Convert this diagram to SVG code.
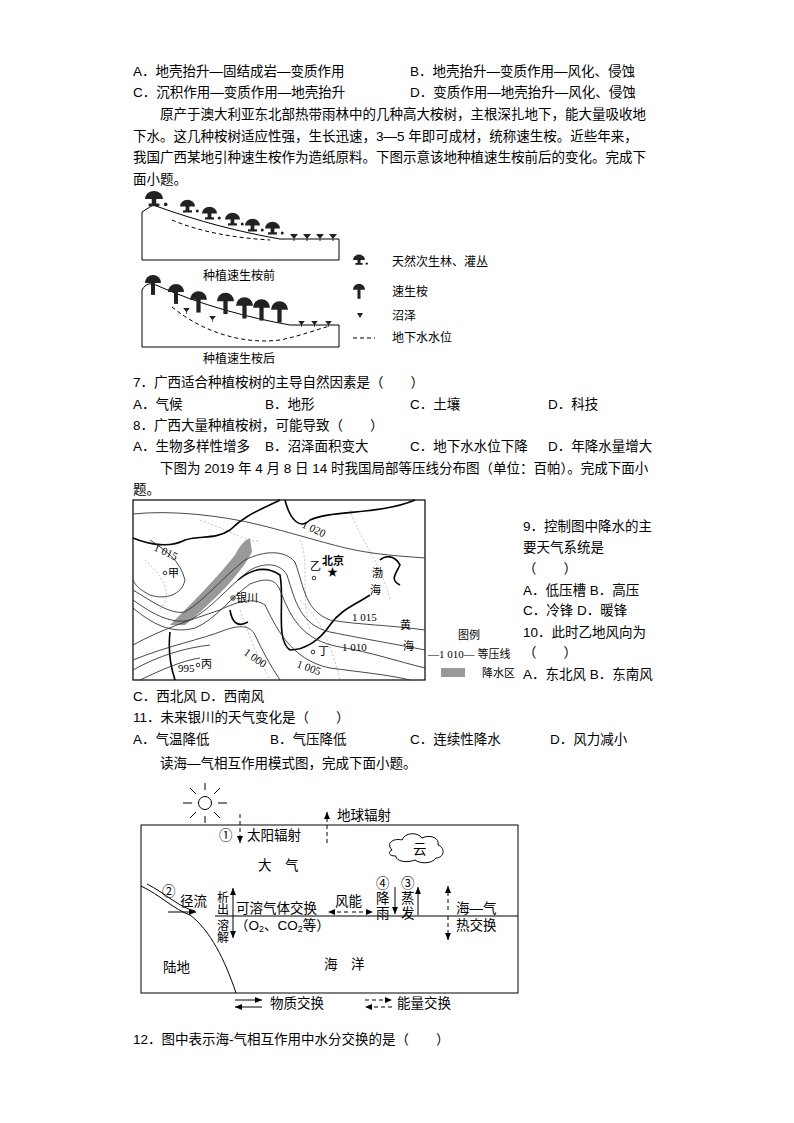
<svg xmlns="http://www.w3.org/2000/svg" width="794" height="1123" viewBox="0 0 794 1123">
<style>
text{font-family:"Liberation Sans","Noto Sans CJK SC",sans-serif;font-size:13.5px;fill:#000}
.s{font-size:12px}
.m{font-size:11px;font-family:"Liberation Serif","Noto Sans CJK SC",serif}
.ln{fill:none;stroke:#000;stroke-width:1}
.ct{fill:none;stroke:#333;stroke-width:0.9}
.bd{fill:none;stroke:#000;stroke-width:1.6}
.pv{fill:none;stroke:#999;stroke-width:0.6;stroke-dasharray:2 2}
.dsh{fill:none;stroke:#000;stroke-width:1;stroke-dasharray:4 3}
</style>
<defs>
<marker id="ah" markerWidth="8" markerHeight="8" refX="7" refY="4" orient="auto" markerUnits="userSpaceOnUse"><path d="M0,1 L7,4 L0,7 Z" fill="#000"/></marker>
<symbol id="tree" viewBox="0 0 20 26" overflow="visible"><path d="M0,11 A10,10 0 0 1 20,11 Z" fill="#222"/><rect x="7.5" y="10" width="5" height="16" fill="#222"/></symbol>
<symbol id="nat" viewBox="0 0 20 20" overflow="visible"><path d="M0,10 A10,9 0 0 1 20,10 Z" fill="#222"/><rect x="7.5" y="9" width="5" height="7" fill="#222"/><rect x="4" y="15" width="12" height="3" fill="#222"/><circle cx="23" cy="16" r="2" fill="#222"/></symbol>
<symbol id="sw" viewBox="0 0 8 6" overflow="visible"><path d="M0,0 L8,0 L4,5 Z" fill="#222"/><line x1="4" y1="5" x2="4" y2="7" stroke="#222"/></symbol>
</defs>
<g id="text-top">
<text x="133" y="76">A．地壳抬升—固结成岩—变质作用</text>
<text x="410" y="76">B．地壳抬升—变质作用—风化、侵蚀</text>
<text x="133" y="97">C．沉积作用—变质作用—地壳抬升</text>
<text x="410" y="97">D．变质作用—地壳抬升—风化、侵蚀</text>
<text x="160" y="119">原产于澳大利亚东北部热带雨林中的几种高大桉树，主根深扎地下，能大量吸收地</text>
<text x="133" y="141">下水。这几种桉树适应性强，生长迅速，3—5 年即可成材，统称速生桉。近些年来，</text>
<text x="133" y="162">我国广西某地引种速生桉作为造纸原料。下图示意该地种植速生桉前后的变化。完成下</text>
<text x="133" y="184">面小题。</text>
</g>
<g id="fig1">
<path class="ln" d="M142,260 L142,212 L153,205 C200,222 240,232 280,239 L339,239 L339,260 Z"/>
<path class="dsh" d="M172,220 C200,232 235,238 270,240"/>
<use href="#nat" x="145" y="190" width="18" height="18"/>
<use href="#nat" x="180" y="199" width="15" height="15"/>
<use href="#nat" x="202" y="206" width="15" height="15"/>
<use href="#nat" x="225" y="212" width="15" height="15"/>
<use href="#nat" x="245" y="218" width="15" height="15"/>
<use href="#nat" x="265" y="221" width="15" height="15"/>
<use href="#sw" x="290" y="234" width="8" height="6"/>
<use href="#sw" x="303" y="234" width="8" height="6"/>
<use href="#sw" x="316" y="234" width="8" height="6"/>
<use href="#sw" x="329" y="234" width="8" height="6"/>
<text class="s" x="203" y="280">种植速生桉前</text>
<path class="ln" d="M142,347 L142,290 C146,283 150,283 156,285 C200,305 250,318 290,325 L339,325 L339,347 Z"/>
<path class="dsh" d="M172,307 C200,330 240,345 280,340 C300,336 315,330 330,326"/>
<use href="#tree" x="145" y="274" width="16" height="21"/>
<use href="#tree" x="168" y="282" width="16" height="23"/>
<use href="#tree" x="190" y="288" width="17" height="27"/>
<use href="#tree" x="217" y="286" width="17" height="34"/>
<use href="#tree" x="236" y="291" width="17" height="33"/>
<use href="#tree" x="253" y="293" width="17" height="33"/>
<use href="#tree" x="271" y="296" width="17" height="31"/>
<use href="#sw" x="183" y="308" width="7" height="5"/>
<use href="#sw" x="209" y="316" width="7" height="5"/>
<use href="#sw" x="298" y="321" width="7" height="5"/>
<use href="#sw" x="311" y="321" width="7" height="5"/>
<use href="#sw" x="325" y="321" width="7" height="5"/>
<text class="s" x="203" y="363">种植速生桉后</text>
<use href="#nat" x="353" y="254" width="12" height="12"/>
<text class="s" x="392" y="266">天然次生林、灌丛</text>
<use href="#tree" x="353" y="282" width="12" height="18"/>
<text class="s" x="392" y="296">速生桉</text>
<path d="M357,313 L363,313 L360,318 Z" fill="#222"/>
<text class="s" x="392" y="320">沼泽</text>
<line class="dsh" x1="353" y1="338" x2="375" y2="338" stroke-dasharray="2 2"/>
<text class="s" x="392" y="342">地下水水位</text>
</g>
<g id="text-mid">
<text x="133" y="387">7．广西适合种植桉树的主导自然因素是（　　）</text>
<text x="133" y="409">A．气候</text><text x="265" y="409">B．地形</text><text x="410" y="409">C．土壤</text><text x="548" y="409">D．科技</text>
<text x="133" y="430">8．广西大量种植桉树，可能导致（　　）</text>
<text x="133" y="451">A．生物多样性增多</text><text x="265" y="451">B．沼泽面积变大</text><text x="410" y="451">C．地下水水位下降</text><text x="548" y="451">D．年降水量增大</text>
<text x="160" y="473">下图为 2019 年 4 月 8 日 14 时我国局部等压线分布图（单位：百帕）。完成下面小</text>
<text x="133" y="494">题。</text>
</g>
<g id="fig2">
<rect x="133" y="500" width="292" height="180" fill="#fff" stroke="#000" stroke-width="1.2"/>
<path d="M170,625 C195,600 215,580 235,555 C240,545 245,540 250,538 L252,552 C240,575 215,600 185,625 Z" fill="#999"/>
<path class="pv" d="M145,560 C160,575 175,590 160,610 M200,520 C230,530 250,545 260,540 M240,610 C250,640 260,660 270,680 M300,600 C320,620 330,640 340,680 M350,510 C360,540 380,560 390,600 M300,540 C310,560 300,600 310,630"/>
<path class="bd" d="M133,538 C150,545 170,548 185,540 C200,535 215,540 230,530 C245,515 260,510 280,500 M285,500 C290,520 300,530 310,520 C330,510 380,515 415,500 M238,580 C250,570 265,565 280,575 C285,600 275,640 290,650 C305,650 320,640 330,625 C340,610 355,605 370,595 M170,632 C168,650 170,665 175,680 M230,610 C232,622 237,628 248,622"/>
<path class="bd" d="M380,560 C385,555 395,555 400,565 C395,575 390,580 400,585" stroke-width="1.2"/>
<path class="ct" d="M133,514 C170,510 220,515 260,525 C300,535 330,545 355,550 C380,555 400,556 425,558"/>
<path class="ct" d="M150,540 C165,550 180,560 185,580 C182,595 165,600 150,595 C140,590 135,585 133,580"/>
<path class="ct" d="M133,590 C150,600 170,615 185,612 C205,600 225,575 245,560 C265,550 285,550 295,562 C305,590 305,610 330,620 C360,625 390,625 425,630"/>
<path class="ct" d="M133,600 C150,612 170,625 190,620 C210,610 230,585 250,570 C265,562 280,563 287,575 C295,600 300,625 330,632 C370,640 400,645 425,650"/>
<path class="ct" d="M133,608 C150,622 170,635 195,628 C215,620 230,598 250,584 C265,578 275,578 280,590 C290,615 300,640 340,647 C370,652 400,662 425,668"/>
<path class="ct" d="M133,645 C160,630 190,620 220,610 C240,600 255,598 265,605 C275,625 290,660 330,668 C360,672 390,675 410,680"/>
<path class="ct" d="M133,660 C170,645 200,640 225,630 C240,625 250,625 255,635 C262,650 270,665 280,680"/>
<path class="ct" d="M140,680 C165,668 185,660 200,658"/>
<path class="ct" d="M133,670 C160,655 185,648 210,645"/>
<text class="m" x="301" y="527" transform="rotate(25 301 527)">1 020</text>
<text class="m" x="153" y="550" transform="rotate(25 153 550)">1 015</text>
<circle cx="165" cy="573" r="1.8" fill="none" stroke="#000" stroke-width="0.8"/><text class="m" x="168" y="577">甲</text>
<circle cx="233" cy="598" r="2.2" fill="none" stroke="#000" stroke-width="0.8"/><circle cx="233" cy="598" r="0.8"/><text class="m" x="236" y="602">银川</text>
<text class="m" x="310" y="570">乙</text><circle cx="314" cy="578" r="1.8" fill="none" stroke="#000" stroke-width="0.8"/>
<text class="m" x="322" y="565" font-weight="bold">北京</text><text class="m" x="327" y="576">★</text>
<text class="m" x="372" y="577">渤</text><text class="m" x="370" y="594">海</text>
<text class="m" x="352" y="621">1 015</text>
<text class="m" x="400" y="629">黄</text><text class="m" x="403" y="650">海</text>
<text class="m" x="342" y="651">1 010</text>
<circle cx="313" cy="652" r="1.8" fill="none" stroke="#000" stroke-width="0.8"/><text class="m" x="318" y="655">丁</text>
<text class="m" x="243" y="654" transform="rotate(35 243 654)">1 000</text>
<text class="m" x="296" y="667" transform="rotate(20 296 667)">1 005</text>
<text class="m" x="178" y="672">995</text><circle cx="198" cy="665" r="1.8" fill="none" stroke="#000" stroke-width="0.8"/><text class="m" x="201" y="668">丙</text>
<text class="m" x="458" y="639">图例</text>
<text class="m" x="428" y="658">—1 010— 等压线</text>
<rect x="441" y="668" width="24" height="9" fill="#999"/>
<text class="m" x="482" y="677">降水区</text>
</g>
<g id="text-right">
<text x="523" y="531">9．控制图中降水的主</text>
<text x="523" y="552">要天气系统是</text>
<text x="523" y="573">（　　）</text>
<text x="523" y="595">A．低压槽 B．高压</text>
<text x="523" y="615">C．冷锋 D．暖锋</text>
<text x="523" y="637">10．此时乙地风向为</text>
<text x="523" y="657">（　　）</text>
<text x="523" y="679">A．东北风 B．东南风</text>
</g>
<g id="text-low">
<text x="133" y="701">C．西北风 D．西南风</text>
<text x="133" y="722">11．未来银川的天气变化是（　　）</text>
<text x="133" y="744">A．气温降低</text><text x="270" y="744">B．气压降低</text><text x="410" y="744">C．连续性降水</text><text x="550" y="744">D．风力减小</text>
<text x="160" y="768">读海—气相互作用模式图，完成下面小题。</text>
<text x="133" y="1044">12．图中表示海-气相互作用中水分交换的是（　　）</text>
</g>
<g id="fig3">
<rect x="141" y="825" width="377" height="168" fill="none" stroke="#000" stroke-width="1"/>
<g id="sun" stroke="#000" stroke-width="1" fill="none">
<circle cx="205" cy="803" r="6.5"/>
<path d="M205,790 L205,783 M205,816 L205,823 M192,803 L183,803 M218,803 L227,803 M196,794 L190,788 M214,794 L220,788 M196,812 L190,818 M214,812 L220,818"/>
</g>
<line class="dsh" x1="240" y1="814" x2="240" y2="843" marker-end="url(#ah)"/>
<text x="219" y="840">①</text><text x="247" y="840">太阳辐射</text>
<line class="dsh" x1="327" y1="843" x2="327" y2="812" marker-end="url(#ah)" stroke="#666"/>
<text x="337" y="820">地球辐射</text>
<text x="258" y="870">大　气</text>
<path d="M392,850 C385,842 395,838 402,840 C405,832 418,832 422,838 C430,834 440,838 438,845 C446,848 444,858 436,858 C432,864 420,864 415,860 C405,864 395,860 396,856 C388,856 388,852 392,850 Z" fill="#fff" stroke="#000"/>
<text x="413" y="854">云</text>
<path class="ln" d="M141,886 C160,895 175,910 190,915 C210,930 225,960 236,993"/>
<path class="ln" d="M147,884 C165,893 180,908 195,911"/>
<line class="ln" x1="168" y1="912" x2="196" y2="912" marker-end="url(#ah)"/>
<line class="ln" x1="215" y1="916" x2="518" y2="916" stroke="#666"/>
<text x="162" y="896">②</text><text x="180" y="906">径流</text>
<text class="s" x="217" y="902">析</text><text class="s" x="217" y="914">出</text>
<text class="s" x="217" y="930">溶</text><text class="s" x="217" y="942">解</text>
<line class="ln" x1="233" y1="912" x2="233" y2="888" marker-end="url(#ah)"/>
<line class="ln" x1="233" y1="912" x2="233" y2="938" marker-end="url(#ah)"/>
<text x="236" y="913">可溶气体交换</text>
<text x="235" y="930">（O<tspan font-size="9" dy="2">2</tspan><tspan dy="-2">、CO</tspan><tspan font-size="9" dy="2">2</tspan><tspan dy="-2">等）</tspan></text>
<text x="335" y="906">风能</text>
<line class="dsh" x1="348" y1="912" x2="328" y2="912" marker-end="url(#ah)"/>
<line class="dsh" x1="352" y1="912" x2="373" y2="912" marker-end="url(#ah)"/>
<text x="376" y="888">④</text><text x="401" y="888">③</text>
<text x="376" y="903">降</text><text x="376" y="918">雨</text>
<text x="401" y="903">蒸</text><text x="401" y="918">发</text>
<line class="ln" x1="395" y1="887" x2="395" y2="914" marker-end="url(#ah)"/>
<line class="ln" x1="418" y1="915" x2="418" y2="887" marker-end="url(#ah)"/>
<line class="dsh" x1="448" y1="910" x2="448" y2="886" marker-end="url(#ah)"/>
<line class="dsh" x1="448" y1="916" x2="448" y2="940" marker-end="url(#ah)"/>
<text x="456" y="913">海—气</text><text x="456" y="930">热交换</text>
<text x="163" y="972">陆地</text>
<text x="324" y="969">海　洋</text>
<line class="ln" x1="235" y1="1000" x2="262" y2="1000" marker-end="url(#ah)"/>
<line class="ln" x1="262" y1="1007" x2="235" y2="1007" marker-end="url(#ah)"/>
<text x="270" y="1008">物质交换</text>
<line class="dsh" x1="365" y1="1000" x2="392" y2="1000" marker-end="url(#ah)"/>
<line class="dsh" x1="392" y1="1007" x2="365" y2="1007" marker-end="url(#ah)"/>
<text x="397" y="1008">能量交换</text>
</g>
</svg>
